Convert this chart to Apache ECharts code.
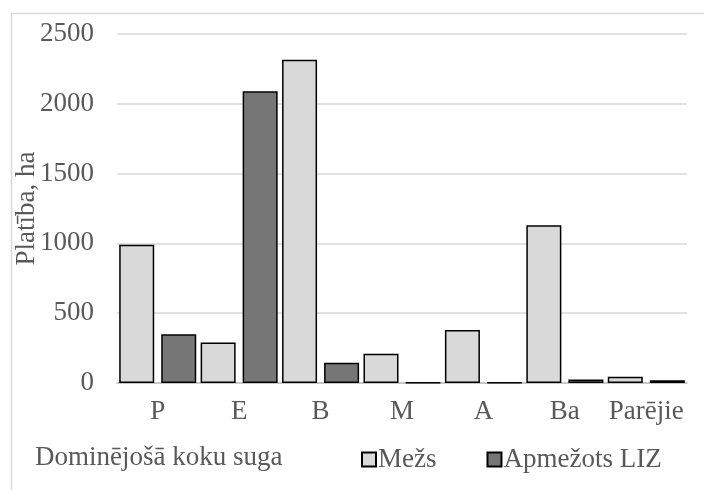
<!DOCTYPE html>
<html>
<head>
<meta charset="utf-8">
<script src="https://cdn.jsdelivr.net/npm/echarts@6/dist/echarts.min.js"></script>
<style>html,body{margin:0;padding:0;background:#fff}#c{width:704px;height:490px}</style>
</head>
<body>
<div id="c"></div>
<script>
var categories = ['P', 'E', 'B', 'M', 'A', 'Ba', 'Parējie'];
var mezs = [990, 290, 2315, 210, 380, 1130, 45];
var apmezots = [350, 2090, 145, 2, 2, 25, 20];
var seriesNames = ['Mežs', 'Apmežots LIZ'];
var yTicks = { min: 0, max: 2500, interval: 500 };

var font = 'Liberation Serif, Times New Roman, serif';
var txt = '#595959';
var fs = 27;
var chart = echarts.init(document.getElementById('c'), null, { renderer: 'canvas' });
chart.setOption({
  animation: false,
  backgroundColor: '#ffffff',
  textStyle: { fontFamily: font },
  title: {
    text: 'Dominējošā koku suga',
    left: 30, top: 439,
    textStyle: { fontFamily: font, fontSize: fs, fontWeight: 'normal', color: txt }
  },
  legend: {
    left: 356, top: 441,
    itemWidth: 14, itemHeight: 14, itemGap: 50,
    icon: 'rect',
    textStyle: { fontFamily: font, fontSize: fs, color: txt, padding: [0, 0, 0, -3] },
    data: seriesNames
  },
  graphic: [{
    type: 'rect', left: 9, top: 11,
    shape: { width: 800, height: 600 },
    style: { fill: 'none', stroke: '#d9d9d9', lineWidth: 1.5 },
    silent: true, z: -10
  }],
  grid: { left: 117, right: 17, top: 34, bottom: 107, containLabel: false, outerBoundsMode: 'none' },
  xAxis: {
    type: 'category',
    data: categories,
    axisTick: { show: false },
    axisLine: { lineStyle: { color: '#bfbfbf', width: 1.5 } },
    axisLabel: { fontFamily: font, fontSize: fs, color: txt, margin: 15, interval: 0, hideOverlap: false }
  },
  yAxis: {
    type: 'value',
    min: yTicks.min, max: yTicks.max, interval: yTicks.interval,
    name: 'Platība, ha',
    nameLocation: 'middle',
    nameGap: 77,
    nameMoveOverlap: false,
    nameTextStyle: { fontFamily: font, fontSize: fs, color: txt },
    axisLine: { show: false },
    axisTick: { show: false },
    axisLabel: { fontFamily: font, fontSize: fs, color: txt, margin: 23, formatter: function (v) { return String(v); } },
    splitLine: { lineStyle: { color: '#d9d9d9', width: 1.5 } }
  },
  series: [{
    name: seriesNames[0], type: 'bar', data: mezs,
    barWidth: '43%', barGap: '20%',
    itemStyle: { color: '#d9d9d9', borderColor: '#000', borderWidth: 1.5 }
  }, {
    name: seriesNames[1], type: 'bar', data: apmezots,
    barWidth: '43%', barGap: '20%',
    itemStyle: { color: '#767676', borderColor: '#000', borderWidth: 1.5 }
  }]
});
</script>
</body>
</html>
